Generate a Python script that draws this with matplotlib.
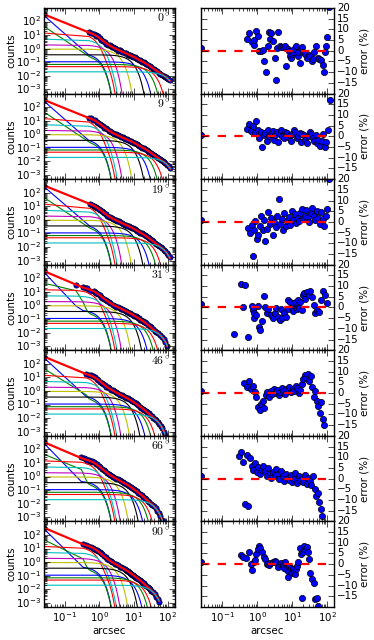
import numpy as np
import matplotlib
matplotlib.use("Agg")
import matplotlib.pyplot as plt

plt.style.use('classic')
plt.rcParams['figure.facecolor'] = 'white'
plt.rcParams['savefig.facecolor'] = 'white'
plt.rcParams['font.size'] = 7.4

# sector angles (deg)
angles = [0, 9, 19, 31, 46, 66, 90]

# MGE components: peak, sigma (arcsec, major axis), axial ratio
comp_peak = [1300., 60., 16., 5.5, 2.0, 0.95, 0.36, 0.11, 0.07, 0.048, 0.02]
comp_sigma = [0.03, 0.12, 0.45, 0.68, 1.1, 2.3, 5.5, 9.6, 16., 24., 65.]
comp_q = [1.0, 1.0, 0.95, 0.9, 0.85, 0.75, 0.65, 0.55, 0.5, 0.45, 0.37]
# PSF as sum of circular gaussians
psf_w = [0.85, 0.15]
psf_sigma = [0.05, 0.6]

# radii (arcsec) and fit errors (%) per sector
rad_0 = [0.025, 0.50, 0.59, 0.69, 0.79, 0.82, 0.92, 1.03, 1.15, 1.29, 1.44, 1.61, 1.80, 2.02,
         2.16, 2.40, 2.52, 2.82, 3.15, 3.52, 3.78, 3.95, 4.41, 4.72, 5.52, 6.17, 6.90, 7.38,
         8.07, 8.63, 9.23, 9.66, 10.8, 11.5, 12.6, 14.4, 15.1, 16.9, 18.1, 19.7, 21.1, 23.6,
         26.4, 29.5, 33.1, 37.0, 39.5, 43.2, 48.3, 55.3, 60.5, 69.2, 75.7, 80.9, 86.5, 94.7,
         101., 113.]
err_0 = [1.1, 5.4, 8.1, 4.1, 2.8, 4.9, 9.4, 7.0, -0.3, 0.0, 0.5, -4.9, -10., 2.1,
         8.6, 5.7, 8.1, 4.4, -3.6, -13.5, 1.3, 8.6, 2.4, 2.0, 1.6, 2.4, -7.0, 0.8,
         0.0, -2.4, -3.3, -1.6, -0.8, 0.8, 2.4, -2.4, -0.8, -5.7, 1.1, 1.6, -0.8, -1.6,
         -3.3, -2.1, -2.4, -4.9, -3.7, -0.8, 2.4, -3.3, -3.7, -4.1, -6.5, -10., -0.8, 2.4,
         6.5, 20.4]

rad_9 = [0.025, 0.50, 0.58, 0.66, 0.75, 0.85, 0.95, 1.05, 1.15, 1.28, 1.40, 1.55, 1.70, 1.88,
         2.05, 2.25, 2.5, 2.75, 3.0, 3.3, 3.6, 4.0, 4.4, 4.8, 5.3, 5.8, 6.4, 7.0, 7.7, 8.5,
         9.3, 10.2, 11.2, 12.3, 13.5, 14.8, 16.3, 18.0, 19.8, 21.8, 24.0, 26.4, 29.0, 32.0,
         35.0, 38.5, 42.5, 47.0, 52.0, 57.0, 63.0, 70.0, 77.0, 85.0, 95.0, 105., 118.]
err_9 = [0.8, 3.5, 6.0, 2.5, 4.8, 1.5, 7.0, 3.0, -1.0, 2.0, -5.0, 0.5, 1.5, -2.0,
         3.0, 0.0, 1.0, 2.5, -1.5, 0.5, 2.0, -2.5, 1.0, 3.0, 0.0, -1.0, 2.0, 1.5, -0.5, 0.5,
         -2.0, 1.0, 3.0, 2.0, -1.0, 0.0, 1.5, -2.5, 1.0, 0.5, -1.5, -3.0, 0.0, 2.0,
         1.0, -1.0, -2.0, 0.5, -3.0, -1.5, -4.5, -2.0, 1.0, -5.0, -2.5, 3.0, 17.0]

rad_19 = [0.025, 0.55, 0.62, 0.70, 0.75, 0.80, 0.88, 0.97, 1.07, 1.18, 1.30, 1.42, 1.56, 1.72,
          1.90, 2.1, 2.3, 2.55, 2.8, 3.1, 3.4, 3.75, 4.1, 4.5, 5.0, 5.5, 6.0, 6.6, 7.3, 8.0,
          8.8, 9.7, 10.7, 11.8, 13.0, 14.3, 15.7, 17.3, 19.0, 21.0, 23.0, 25.5, 28.0, 31.0,
          34.0, 37.5, 41.5, 46.0, 51.0, 56.0, 62.0, 69.0, 76.0, 84.0, 93.0, 103., 114.]
err_19 = [1.0, -3.0, -5.0, -1.5, -16.0, -4.0, 0.5, -8.0, -6.0, -2.0, 3.0, -4.0, 1.0, -9.0,
          -3.5, 4.5, -1.0, 2.0, -6.0, 0.0, -2.5, 3.0, 10.5, -1.0, 1.5, -4.0, 4.0, -2.0, 0.5, 2.5,
          -1.5, 5.0, 1.0, 3.5, -0.5, 2.0, 0.5, 4.0, 6.0, 1.5, 3.0, 5.5, 2.5, 0.0,
          4.0, 6.5, 3.0, 1.0, 5.0, 2.0, -1.0, 4.5, 1.5, -2.0, 3.0, 6.0, 20.0]

rad_31 = [0.025, 0.21, 0.34, 0.40, 0.45, 0.55, 0.69, 0.74, 0.79, 0.82, 0.94, 1.03, 1.15, 1.23,
          1.35, 1.55, 1.69, 1.93, 2.1, 2.5, 2.82, 3.14, 3.52, 3.94, 4.41, 4.72, 5.16, 5.91,
          6.61, 7.38, 7.72, 8.65, 9.66, 10.3, 11.6, 12.6, 13.5, 14.4, 15.8, 16.9, 18.9, 20.2,
          22.0, 23.6, 26.3, 29.5, 33.0, 37.0, 41.4, 46.0, 51.8, 57.9, 69.0, 76.0, 85.0, 97.0]
err_31 = [1.4, -12.5, 10.9, 0.0, 10.5, -13.8, 0.6, -1.3, -4.8, -2.8, -3.6, 0.6, -9.0, -10.3,
          -6.4, 5.6, 0.3, -2.8, -0.5, -3.6, -4.8, -2.8, -0.2, -4.4, -5.9, -0.9, -4.8, -2.8,
          -4.4, -0.5, 3.4, 2.7, 0.3, -1.7, 1.9, 2.7, -0.5, 3.4, -0.2, 2.7, -1.3, 5.8,
          6.9, 4.2, 7.3, 5.8, 7.7, 5.0, 1.1, -2.8, -1.3, -2.0, 3.4, 7.7, 5.8, 1.9]

rad_46 = [0.025, 0.42, 0.50, 0.58, 0.66, 0.75, 0.85, 0.95, 1.05, 1.17, 1.30, 1.45, 1.60, 1.78,
          1.97, 2.2, 2.45, 2.7, 3.0, 3.35, 3.7, 4.1, 4.55, 5.0, 5.6, 6.2, 6.9, 7.6, 8.4, 9.3,
          10.3, 11.4, 12.6, 13.9, 15.4, 17.0, 18.8, 20.8, 23.0, 25.4, 28.0, 31.0, 34.5, 38.0,
          42.0, 46.5, 51.0, 56.0, 62.0, 68.0, 75.0, 82.0]
err_46 = [1.0, 4.5, 3.0, 5.5, 2.0, 3.5, 0.5, -2.0, -6.5, -8.0, -5.0, -3.5, -7.0, -1.0,
          0.5, -2.0, 1.0, -0.5, 2.0, 0.0, 1.5, -1.0, 0.5, 2.5, 1.0, -0.5, 2.0, 1.5, 3.0, 0.5,
          2.0, 1.0, 3.5, 2.5, 0.0, 1.5, 4.0, 6.5, 8.5, 7.0, 9.0, 5.5, 8.0, 3.0,
          -2.0, 1.0, -3.5, -6.0, -9.5, -4.0, -12.0, -15.0]

rad_66 = [0.025, 0.30, 0.35, 0.40, 0.45, 0.50, 0.56, 0.62, 0.70, 0.78, 0.87, 0.97, 1.08, 1.20,
          1.34, 1.50, 1.67, 1.86, 2.07, 2.3, 2.55, 2.85, 3.15, 3.5, 3.9, 4.35, 4.85, 5.4, 6.0,
          6.7, 7.5, 8.3, 9.2, 10.2, 11.3, 12.5, 13.9, 15.4, 17.1, 19.0, 21.0, 23.5, 26.0,
          29.0, 32.0, 35.5, 39.5, 44.0, 49.0, 54.0, 60.0, 67.0, 74.0]
err_66 = [1.0, 10.5, 12.5, 8.0, -12.0, 11.0, -13.0, 9.5, 6.0, 4.0, 7.5, 3.0, 5.5, 2.0,
          4.0, 6.0, 3.5, 1.0, 5.0, 2.5, 0.5, 3.0, 1.5, 4.5, 2.0, 0.0, 3.5, 1.0, -1.0,
          2.0, 0.5, -0.5, 1.5, -1.5, 0.0, 2.5, -2.0, 1.0, -0.5, 0.0, -1.5, 1.5, -2.5,
          0.5, -1.0, -3.0, 1.0, -5.0, -8.0, -6.5, -11.0, -14.0, -17.5]

rad_90 = [0.025, 0.34, 0.40, 0.47, 0.59, 0.66, 0.71, 0.79, 0.87, 0.94, 1.03, 1.10, 1.2, 1.35,
          1.55, 1.69, 1.93, 2.16, 2.4, 2.82, 3.14, 3.52, 3.94, 4.41, 4.93, 5.52, 5.91, 6.45,
          6.9, 7.38, 7.72, 8.07, 8.65, 9.25, 9.66, 10.3, 11.0, 12.0, 12.9, 13.8, 15.1, 16.5,
          17.7, 18.9, 20.2, 22.0, 23.6, 25.9, 27.7, 29.5, 33.0, 37.0, 41.4, 46.0, 50.7, 55.3]
err_90 = [1.1, 4.4, 3.2, 2.9, 5.6, 0.3, -2.7, 1.1, 2.1, 4.8, 7.1, 8.4, 7.5, 5.9,
          3.2, 2.4, 0.0, -0.5, 0.5, 1.1, 1.6, 0.8, -1.1, 0.0, 0.5, -0.5, -1.6, 0.8,
          -2.1, -3.2, -6.0, -0.8, -2.7, -1.6, -4.0, -2.4, -3.5, -4.8, -2.1, -0.8, 0.8, 7.5,
          4.8, -15.9, 5.9, 8.4, 7.1, 7.9, 5.9, 2.4, -4.0, -6.8, -9.0, -16.3, -15.9, -19.5]

radii = [rad_0, rad_9, rad_19, rad_31, rad_46, rad_66, rad_90]
errors = [err_0, err_9, err_19, err_31, err_46, err_66, err_90]


def gauss_comps(r, theta):
    x = r * np.cos(np.radians(theta))
    y = r * np.sin(np.radians(theta))
    out = []
    for a, s, q in zip(comp_peak, comp_sigma, comp_q):
        flux = a * s * s * q
        g = np.zeros_like(r)
        for w, sp in zip(psf_w, psf_sigma):
            sx2 = s**2 + sp**2
            sy2 = (q * s)**2 + sp**2
            g += flux * w / np.sqrt(sx2 * sy2) * np.exp(-0.5 * (x**2 / sx2 + y**2 / sy2))
        out.append(g)
    return np.array(out).T


fig = plt.figure(figsize=(3.74, 6.4), dpi=100)
colors = ['b', 'g', 'r', 'c', 'm', 'y', 'k']
n = len(angles)
top, bot = 0.9875, 0.0516
h = (top - bot) / n

for j, ang in enumerate(angles):
    r = np.array(radii[j])
    e = np.array(errors[j])
    gs = gauss_comps(r, ang)
    model = gs.sum(axis=1)
    counts = model * (1 + e / 100.)

    ax = fig.add_axes([0.1176, top - (j + 1) * h, 0.350, h])
    ax.loglog(r, counts, 'o', color='b', mec='k', mew=0.5, ms=3.8)
    ax.loglog(r, model, 'r', lw=1.6)
    for k in range(gs.shape[1]):
        ax.loglog(r, gs[:, k], color=colors[k % 7], lw=0.8)
    ax.text(0.97, 0.95, r"$%d^\circ$" % ang, ha='right', va='top',
            transform=ax.transAxes, fontsize=8.5)
    ax.set_xlim(0.0245, 160)
    ax.set_ylim(5e-4, 1e3)
    ax.set_yticks([1e-3, 1e-2, 1e-1, 1, 10, 100])
    ax.set_ylabel("counts", labelpad=0)
    ax.tick_params(axis='both', pad=2)
    if j < n - 1:
        ax.set_xticklabels([])
    else:
        ax.set_xlabel("arcsec", labelpad=2)

    ax2 = fig.add_axes([0.5374, top - (j + 1) * h, 0.356, h])
    ax2.semilogx(r, e, 'o', color='b', mec='k', mew=0.5, ms=4.5)
    ax2.axhline(0, linestyle='--', color='r', lw=1.6)
    ax2.set_xlim(0.0245, 160)
    ax2.set_ylim(-20, 20)
    ax2.set_yticks(range(-15, 25, 5))
    ax2.yaxis.set_label_position("right")
    ax2.tick_params(axis='y', labelleft=False, labelright=True)
    ax2.tick_params(axis='both', pad=2)
    ax2.set_ylabel("error (%)", labelpad=1)
    if j < n - 1:
        ax2.set_xticklabels([])
    else:
        ax2.set_xlabel("arcsec", labelpad=2)

fig.savefig("out.png", dpi=100)
